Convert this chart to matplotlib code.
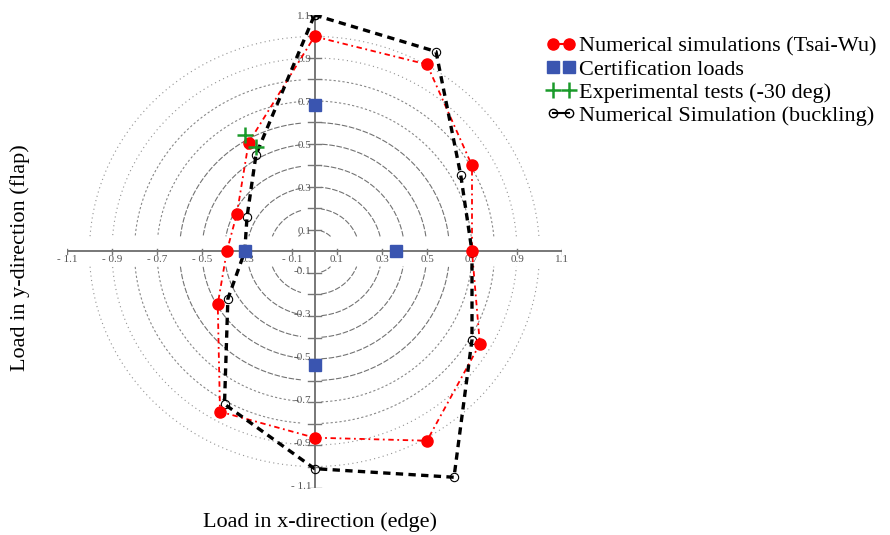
import numpy as np
import matplotlib
matplotlib.use("Agg")
import matplotlib.pyplot as plt
from matplotlib.lines import Line2D

# ---- data ----
tsai_x = [0.0, 0.50, 0.70, 0.70, 0.735, 0.50, 0.0, -0.42, -0.43, -0.39, -0.345, -0.293, 0.0]
tsai_y = [1.0, 0.87, 0.40, 0.0, -0.43, -0.88, -0.866, -0.745, -0.245, 0.0, 0.176, 0.506, 1.0]

buck_x = [0.0, 0.54, 0.65, 0.70, 0.70, 0.62, 0.0, -0.40, -0.385, -0.31, -0.30, -0.26, 0.0]
buck_y = [1.1, 0.93, 0.355, 0.0, -0.41, -1.05, -1.01, -0.71, -0.22, 0.0, 0.16, 0.45, 1.1]

cert_x = [0.0, -0.31, 0.36, 0.0]
cert_y = [0.68, 0.0, 0.0, -0.53]

exp_x = [-0.31, -0.26]
exp_y = [0.54, 0.485]

radii = [0.1, 0.2, 0.3, 0.4, 0.5, 0.6, 0.7, 0.8, 0.9, 1.0]
xtick_vals = [-1.1, -0.9, -0.7, -0.5, -0.3, -0.1, 0.1, 0.3, 0.5, 0.7, 0.9, 1.1]
xtick_labels = ["- 1.1", "- 0.9", "- 0.7", "- 0.5", "0.3", "- 0.1", "0.1", "0.3", "0.5", "0.7", "0.9", "1.1"]
ytick_vals = [1.1, 0.9, 0.7, 0.5, 0.3, 0.1, -0.1, -0.3, -0.5, -0.7, -0.9, -1.1]
ytick_labels = ["1.1", "0.9", "0.7", "0.5", "0.3", "0.1", "-0.1", "-0.3", "-0.5", "-0.7", "-0.9", "- 1.1"]

serif = ["Liberation Serif", "DejaVu Serif"]

W, H = 890, 535
fig = plt.figure(figsize=(W / 100, H / 100), dpi=100)
ax = fig.add_axes([67 / W, (H - 488) / H, 495 / W, 473 / H])
ax.set_xlim(-1.1, 1.1)
ax.set_ylim(-1.1, 1.1)
ax.axis("off")

# concentric circles (arcs with gaps near axes)
th = np.linspace(0, 2 * np.pi, 2000)
for r in radii:
    x = r * np.cos(th)
    y = r * np.sin(th)
    mask = ((x < -0.06) | (x > 0.03)) & (np.abs(y) > 0.07)
    xs = np.where(mask, x, np.nan)
    ys = np.where(mask, y, np.nan)
    if r <= 0.6:
        ax.plot(xs, ys, color="#444444", lw=0.8, ls=(0, (5, 1.5)), alpha=0.75, zorder=1)
    elif r <= 0.8:
        ax.plot(xs, ys, color="#555555", lw=0.8, ls=(0, (2, 2)), alpha=0.7, zorder=1)
    else:
        ax.plot(xs, ys, color="#777777", lw=0.8, ls=(0, (1, 3)), alpha=0.8, zorder=1)

# axes lines
ax.plot([-1.1, 1.1], [0, 0], color="#777777", lw=1.4, zorder=2)
ax.plot([0, 0], [-1.1, 1.1], color="#777777", lw=1.4, zorder=2)
for v in xtick_vals:
    ax.plot([v, v], [-0.012, 0.012], color="#777777", lw=1.0, zorder=2)
for v in np.arange(-11, 12) / 10:
    if abs(v) > 1e-9:
        ax.plot([-0.03, 0.03], [v, v], color="#777777", lw=1.0, zorder=2)

for v, lab in zip(xtick_vals, xtick_labels):
    ax.text(v, -0.018, lab, ha="center", va="top", fontsize=8, color="#555555",
            family=serif, zorder=3)
for v, lab in zip(ytick_vals, ytick_labels):
    ax.text(-0.015, v - 0.008 * np.sign(v), lab, ha="right", va="center", fontsize=8,
            color="#555555", family=serif, zorder=3)

# series
ax.plot(tsai_x, tsai_y, color="red", lw=1.3, ls=(0, (3, 2, 1, 2)), zorder=4)
ax.plot(tsai_x[:-1], tsai_y[:-1], ls="none", marker="o", ms=8, color="red",
        mec="red", zorder=6)
ax.plot(buck_x, buck_y, color="black", lw=2.4, ls=(0, (2.2, 1.6)), zorder=5,
        marker="o", ms=6, mfc="none", mec="black", mew=0.8)
ax.plot(cert_x, cert_y, ls="none", marker="s", ms=8, color="#3a55b0", zorder=7)
ax.plot(exp_x, exp_y, ls="none", marker="+", ms=12, mew=1.8, color="#1a9a2a", zorder=8)

# legend
handles = [
    Line2D([], [], color="red", marker="o", ms=8, lw=1.5),
    Line2D([], [], color="#3a55b0", marker="s", ms=8, lw=0),
    Line2D([], [], color="#1a9a2a", marker="+", ms=11, mew=1.8, lw=0),
    Line2D([], [], color="black", marker="o", ms=6, mfc="none", lw=1.5),
]
labels = ["Numerical simulations (Tsai-Wu)", "Certification loads",
          "Experimental tests (-30 deg)", "Numerical Simulation (buckling)"]
fig.legend(handles, labels, loc="upper left", bbox_to_anchor=(537 / W, 1 - 27 / H),
           frameon=False, numpoints=2, handlelength=1.35, handletextpad=0.15,
           labelspacing=0.12, borderaxespad=0, prop={"family": serif, "size": 16})

fig.text(320 / W, 1 - 522 / H, "Load in x-direction (edge)", ha="center", va="center",
         fontsize=16, family=serif)
fig.text(20 / W, 1 - 258 / H, "Load in y-direction (flap)", ha="center", va="center",
         rotation=90, fontsize=16, family=serif)

fig.savefig("out.png", dpi=100)
